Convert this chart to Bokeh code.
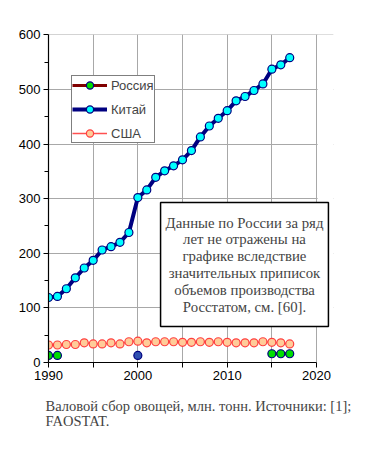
import numpy as np
from bokeh.plotting import figure
from bokeh.models import FixedTicker, Legend, LegendItem, Label, Range1d, Title, BoxAnnotation
from bokeh.embed import file_html
from bokeh.resources import INLINE

nan = np.nan
years = list(range(1990, 2018))
china = [119, 121, 135, 155, 173, 187, 206, 212, 220, 238, 302, 316, 339, 351,
         360, 371, 388, 413, 433, 447, 461, 479, 487, 498, 510, 537, 545, 558]
usa = [32, 32, 33, 33, 36, 34, 34, 36, 34, 38, 39, 36, 38, 38,
       38, 37, 37, 38, 37, 38, 37, 36, 36, 36, 38, 37, 36, 34]
russia = [13, 13, nan, nan, nan, nan, nan, nan, nan, nan, 13, nan, nan, nan,
          nan, nan, nan, nan, nan, nan, nan, nan, nan, nan, nan, 16, 16, 16]

x_ticks = [1990, 1995, 2000, 2005, 2010, 2015, 2020]
x_labels = {1990: "1990", 1995: "", 2000: "2000", 2005: "", 2010: "2010", 2015: "", 2020: "2020"}
y_ticks = [0, 100, 200, 300, 400, 500, 600]
y_minor = [50, 150, 250, 350, 450, 550]
x_axis_end = 2020
y_axis_end = 600

series_names = ["Россия", "Китай", "США"]
note_text = ("Данные по России за ряд\nлет не отражены на\nграфике вследствие\n"
             "значительных приписок\nобъемов производства\nРосстатом, см. [60].")
caption = "Валовой сбор овощей, млн. тонн. Источники: [1];\nFAOSTAT."

# marker fill for Russia: the 2000 point is drawn in blue in the original
ru_fill = ["#3050b0" if y == 2000 else "#00dd00" for y in years]

# frame spans a bit beyond 2020 so that the note box may overhang the axes area
p = figure(width=367, height=451, output_backend="svg", toolbar_location=None,
           x_range=Range1d(1990, 2021.9), y_range=Range1d(0, 600.5),
           min_border_left=48, min_border_right=34, min_border_top=34, min_border_bottom=89)
p.background_fill_color = "white"
p.border_fill_color = "white"
p.outline_line_color = None

grid_color = "#a8a8a8"
p.xgrid.grid_line_color = grid_color
p.ygrid.grid_line_color = grid_color

p.xaxis.ticker = FixedTicker(ticks=x_ticks)
p.xaxis.major_label_overrides = x_labels
p.yaxis.ticker = FixedTicker(ticks=y_ticks, minor_ticks=y_minor)
p.xgrid.ticker = FixedTicker(ticks=x_ticks)
p.ygrid.ticker = FixedTicker(ticks=y_ticks)
p.xaxis.bounds = (1990, x_axis_end)
p.yaxis.bounds = (0, y_axis_end)

for ax in (p.xaxis, p.yaxis):
    ax.axis_line_color = "black"
    ax.axis_line_width = 1.2
    ax.major_tick_line_color = "black"
    ax.minor_tick_line_color = "black"
    ax.major_tick_out = 5
    ax.major_tick_in = 0
    ax.minor_tick_out = 4
    ax.minor_tick_in = 0
    ax.major_label_text_font = "Liberation Sans"
    ax.major_label_text_font_size = "13px"
    ax.major_label_text_color = "black"
p.xaxis.minor_tick_line_color = None
p.yaxis.major_label_standoff = 3
p.xaxis.major_label_standoff = 3

# white mask over the part of the frame beyond 2020
mask = BoxAnnotation(left=x_axis_end + 0.12, fill_color="white", fill_alpha=1,
                     line_color=None, level="annotation")
p.add_layout(mask)

# USA
us_line = p.line(years, usa, line_color="#ff5050", line_width=1.3)
us_pts = p.scatter(years, usa, size=8, fill_color="#ffcc99", line_color="#ff4040", line_width=1.2)
# Russia
ru_line = p.line(years, russia, line_color="#800000", line_width=3)
ru_pts = p.scatter(years, russia, size=8, fill_color=ru_fill, line_color="#000080", line_width=1.2)
# China
cn_line = p.line(years, china, line_color="#000080", line_width=4)
cn_pts = p.scatter(years, china, size=8, fill_color="#00ffff", line_color="#000080", line_width=1.2)

# legend sample for Russia uses the green marker
ru_legend_pt = p.scatter([nan], [nan], size=8, fill_color="#00dd00", line_color="#000080", line_width=1.2)

legend = Legend(items=[
    LegendItem(label=series_names[0], renderers=[ru_line, ru_legend_pt]),
    LegendItem(label=series_names[1], renderers=[cn_line, cn_pts]),
    LegendItem(label=series_names[2], renderers=[us_line, us_pts]),
], location=(23, 219))
legend.border_line_color = "black"
legend.border_line_width = 1.5
legend.background_fill_color = "white"
legend.background_fill_alpha = 1
legend.padding = 0
legend.spacing = 6
legend.margin = 0
legend.glyph_width = 35
legend.glyph_height = 18
legend.label_standoff = 4
legend.label_text_font = "Liberation Sans"
legend.label_text_font_size = "13px"
legend.label_height = 18
p.add_layout(legend, "center")

note = Label(x=196, y=160, x_units="screen", y_units="screen", text=note_text,
             text_align="center", text_baseline="top", level="overlay",
             text_font="Liberation Serif", text_font_size="14.8px", text_line_height=1.05,
             border_line_color="black", border_line_width=1.5,
             background_fill_color="white", background_fill_alpha=1, padding=(5, 12))
p.add_layout(note)

t1 = Title(text=caption, align="left", offset=-3, standoff=28, text_line_height=0.95,
           text_font="Liberation Serif", text_font_size="14.5px", text_font_style="normal")
p.add_layout(t1, "below")

open("out.html", "w").write(file_html(p, INLINE))
